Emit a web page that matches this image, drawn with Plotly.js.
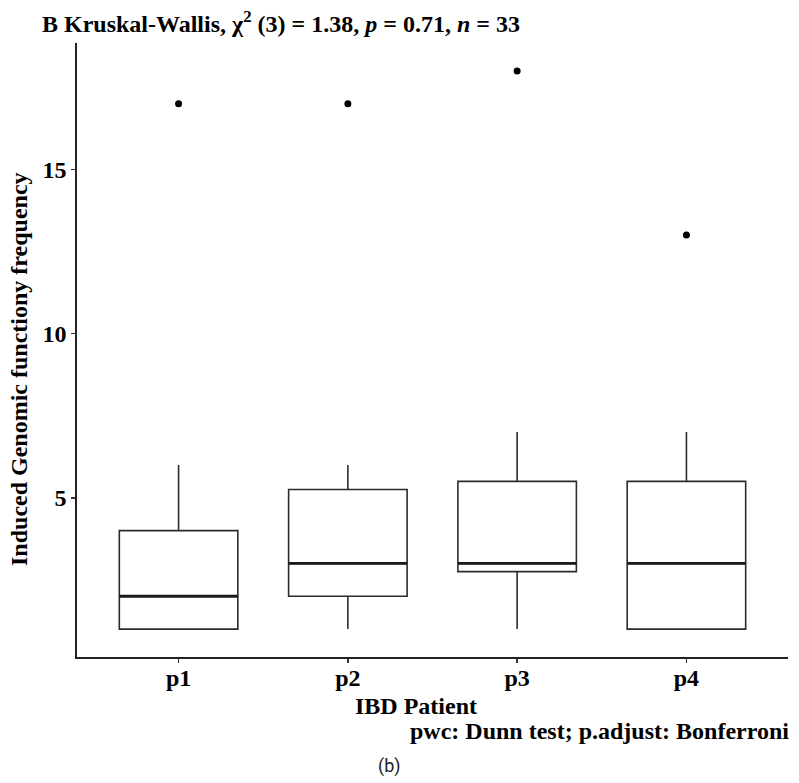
<!DOCTYPE html>
<html>
<head>
<meta charset="utf-8">
<script src="https://cdn.plot.ly/plotly-3.0.1.min.js"></script>
<style>html,body{margin:0;padding:0;background:#fff;}#chart{width:799px;height:783px;}</style>
</head>
<body>
<div id="chart"></div>
<script>
// ---- data ----
const categories = ["p1", "p2", "p3", "p4"];
const q1Values = [1, 2, 2.75, 1];
const medianValues = [2, 3, 3, 3];
const q3Values = [4, 5.25, 5.5, 5.5];
const lowerFence = [1, 1, 1, 1];
const upperFence = [6, 6, 7, 7];
const outlierCategory = ["p1", "p2", "p3", "p4"];
const outlierValues = [17, 17, 18, 13];
const yTicks = [5, 10, 15];

// ---- build ----
const idx = categories.map((c, i) => i);
const boxWidth = 0.7;
const serif = "Liberation Serif, Times New Roman, serif";
const lineCol = "#2b2b2b";
const fs = 24;
const boldFont = {family: serif, size: fs, weight: "bold", color: "#000"};

const boxTrace = {
  type: "box",
  x: idx,
  q1: q1Values,
  median: medianValues,
  q3: q3Values,
  lowerfence: lowerFence,
  upperfence: upperFence,
  width: boxWidth,
  whiskerwidth: 0,
  fillcolor: "rgba(255,255,255,0)",
  line: {color: lineCol, width: 1.6},
  boxpoints: false,
  hoverinfo: "skip",
  showlegend: false
};

// thicker median segments
const medX = [], medY = [];
idx.forEach((i) => {
  medX.push(i - boxWidth / 2, i + boxWidth / 2, null);
  medY.push(medianValues[i], medianValues[i], null);
});
const medianTrace = {
  type: "scatter", mode: "lines", x: medX, y: medY,
  line: {color: "#1a1a1a", width: 2.8}, hoverinfo: "skip", showlegend: false
};

const outTrace = {
  type: "scatter", mode: "markers",
  x: outlierCategory.map(c => categories.indexOf(c)),
  y: outlierValues,
  marker: {color: "#000", size: 7},
  hoverinfo: "skip", showlegend: false
};

const layout = {
  width: 799, height: 783,
  margin: {l: 77, r: 11, t: 43, b: 126},
  paper_bgcolor: "#fff", plot_bgcolor: "#fff",
  font: {family: serif, color: "#000"},
  title: {
    text: "B Kruskal-Wallis, χ<sup>2</sup> (3) = 1.38, <i>p</i> = 0.71, <i>n</i> = 33",
    font: boldFont,
    x: 42 / 799, xanchor: "left", xref: "container",
    y: 1 - 24 / 783, yanchor: "middle", yref: "container"
  },
  xaxis: {
    range: [-0.6, 3.6],
    tickmode: "array", tickvals: idx, ticktext: categories,
    showgrid: false, zeroline: false,
    showline: true, linecolor: "#222", linewidth: 1.6,
    ticks: "outside", ticklen: 4, tickcolor: "#333", tickwidth: 1.6,
    ticklabelstandoff: -5,
    tickfont: boldFont,
    fixedrange: true
  },
  yaxis: {
    range: [0.15, 18.85],
    tickmode: "array", tickvals: yTicks, ticktext: yTicks.map(String),
    showgrid: false, zeroline: false,
    showline: true, linecolor: "#222", linewidth: 1.6,
    ticks: "outside", ticklen: 4, tickcolor: "#333", tickwidth: 1.6,
    tickfont: boldFont,
    fixedrange: true
  },
  annotations: [
    {text: "Induced Genomic functiony frequency", xref: "paper", yref: "paper",
     x: (19 - 77) / 711, y: (657 - 369) / 614, textangle: -90,
     xanchor: "center", yanchor: "middle", showarrow: false, font: boldFont},
    {text: "IBD Patient", xref: "paper", yref: "paper", x: (416 - 77) / 711, y: (657 - 706) / 614,
     xanchor: "center", yanchor: "middle", showarrow: false, font: boldFont},
    {text: "pwc: Dunn test; p.adjust: Bonferroni", xref: "paper", yref: "paper",
     x: (791 - 77) / 711, y: (657 - 731) / 614, xanchor: "right", yanchor: "middle",
     showarrow: false, font: boldFont},
    {text: "(b)", xref: "paper", yref: "paper", x: (389 - 77) / 711, y: (657 - 766) / 614,
     xanchor: "center", yanchor: "middle", showarrow: false,
     font: {family: "Liberation Sans Narrow, Roboto, Open Sans, sans-serif", size: 18, color: "#222"}}
  ]
};

Plotly.newPlot("chart", [boxTrace, medianTrace, outTrace], layout, {displayModeBar: false, staticPlot: true});
</script>
</body>
</html>
